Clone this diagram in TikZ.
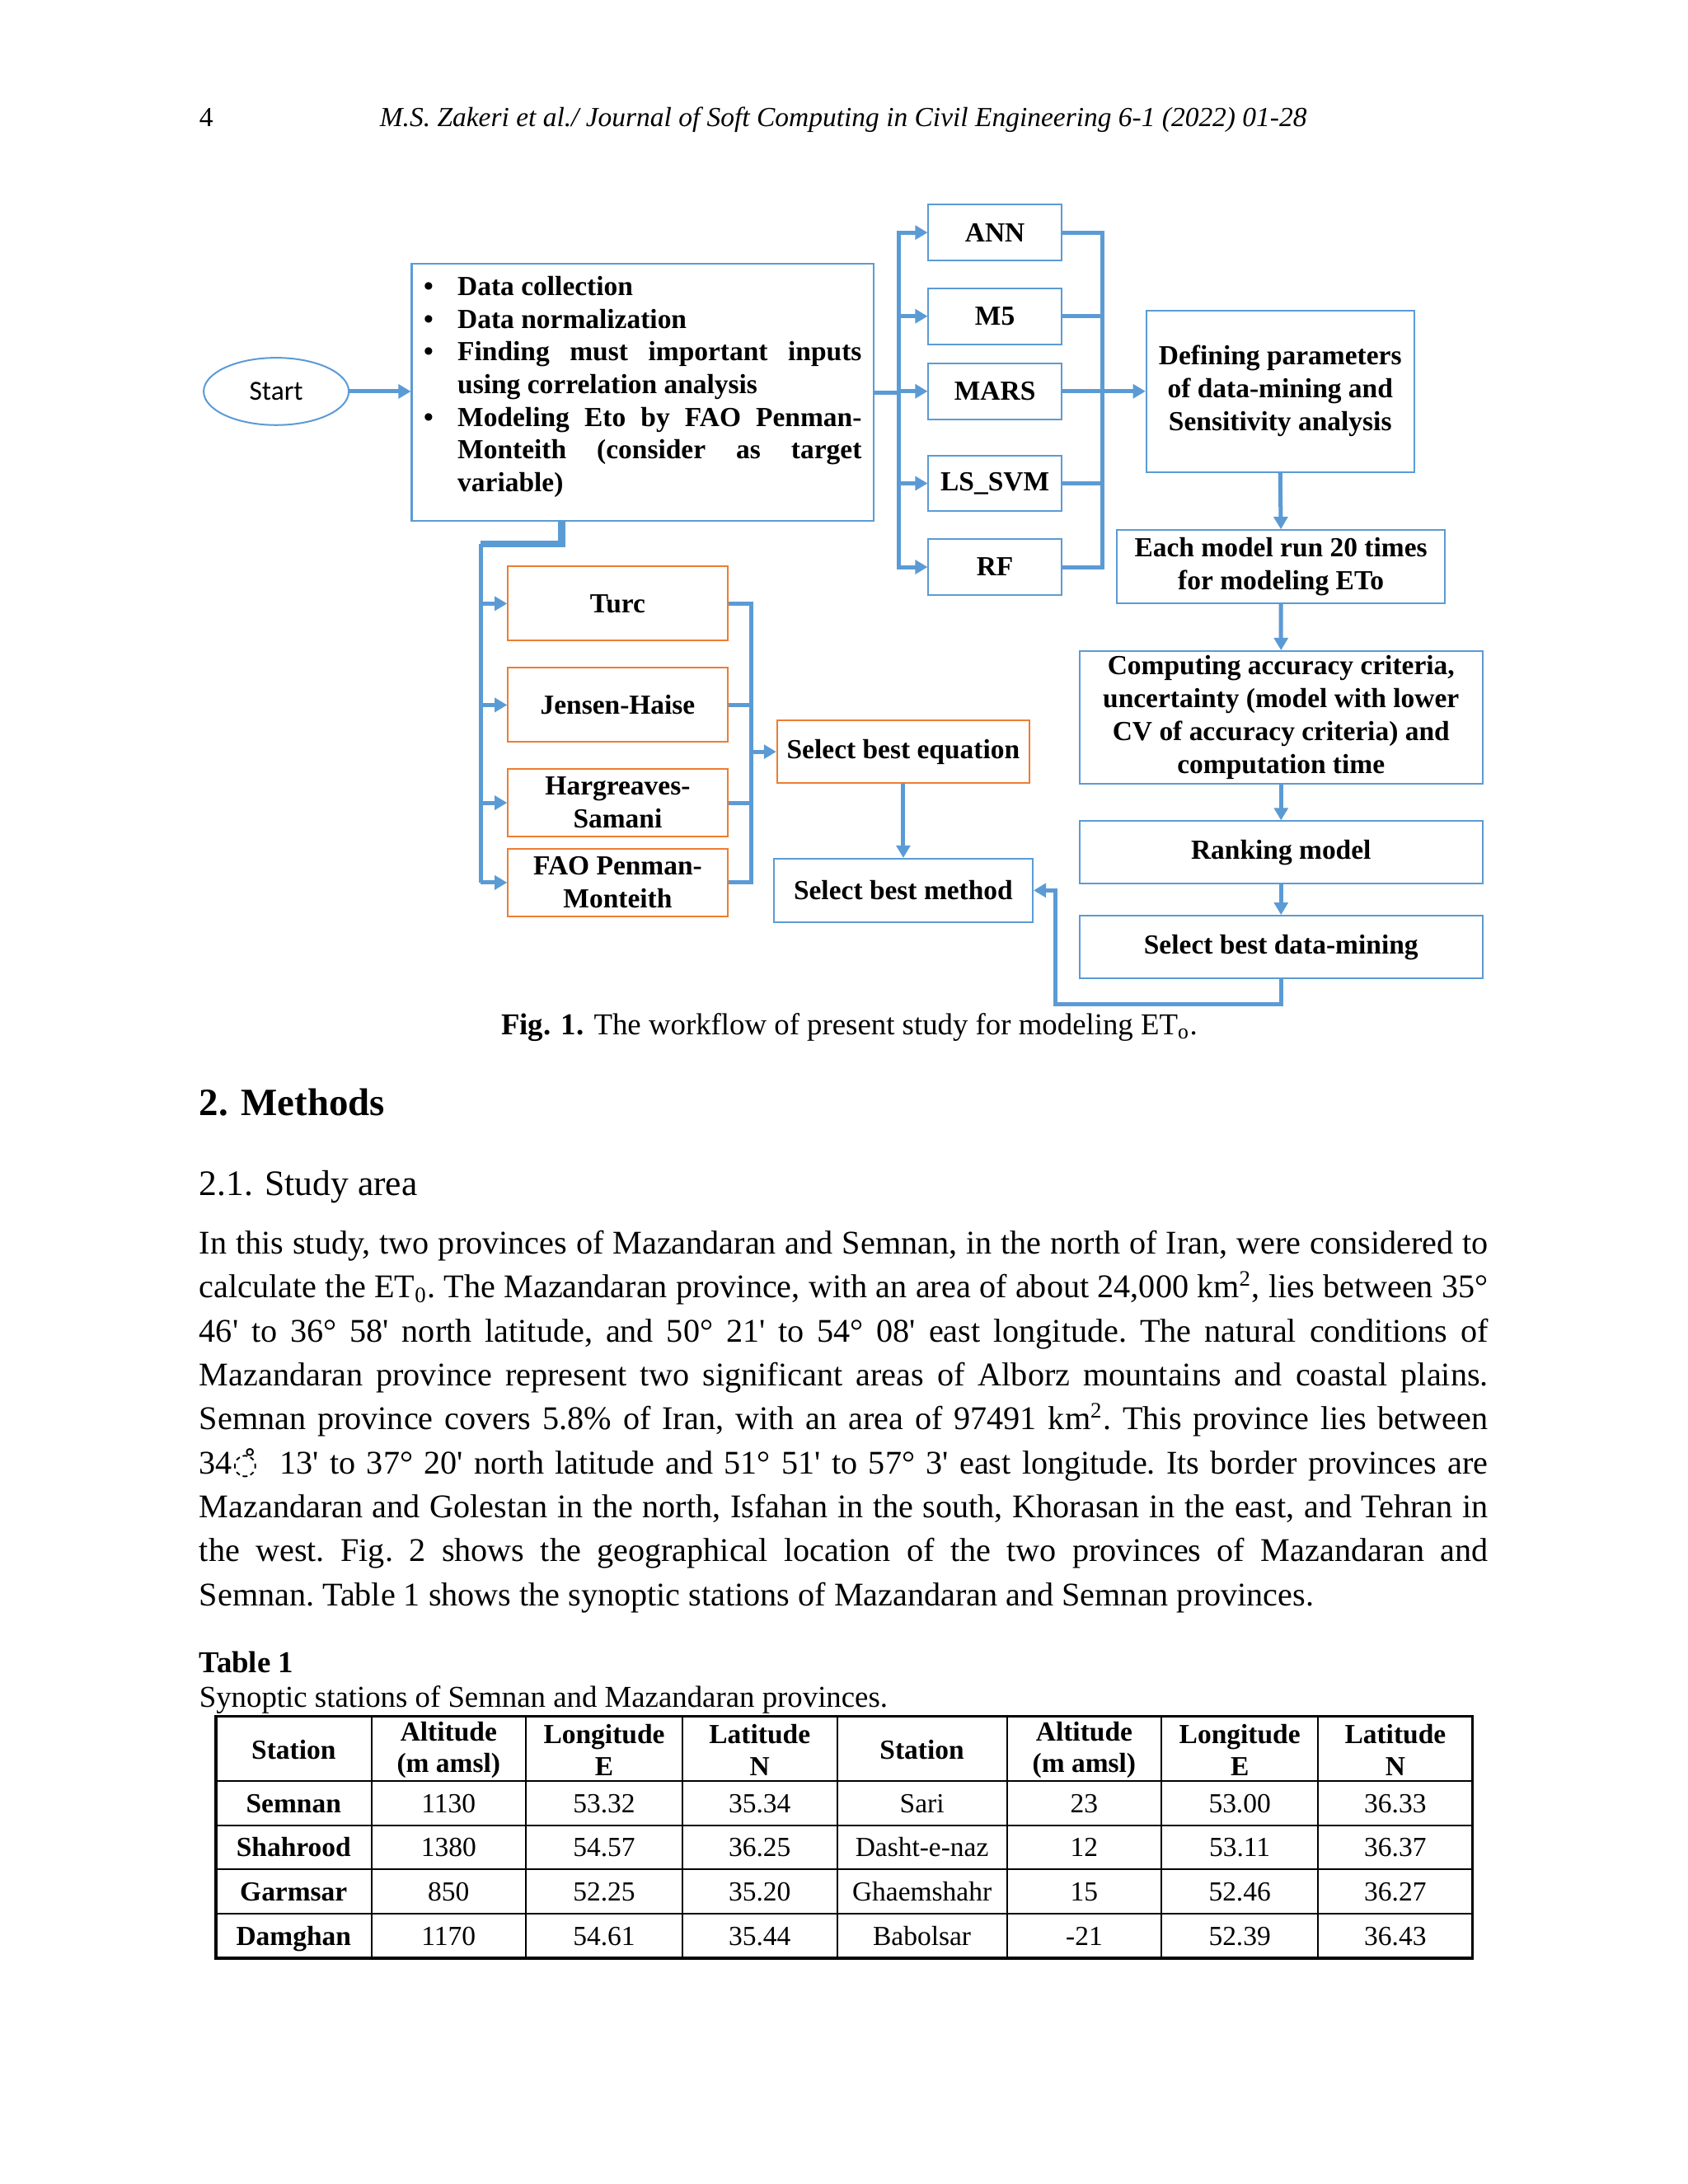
\documentclass[tikz,border=0pt]{standalone}
\usepackage{fontspec}
\setmainfont{Liberation Serif}
\newfontfamily\calibrifont{Carlito}
\newfontfamily\dejavufont{DejaVu Sans}
\usetikzlibrary{arrows.meta,positioning,shapes.geometric}
\definecolor{flowblue}{RGB}{91,155,213}
\definecolor{eqorange}{RGB}{237,125,49}
\newcommand{\prm}{\textquotesingle}
\newcommand{\bitem}{\par\hangindent=12.3pt\hangafter=1\noindent\makebox[12.3pt][l]{\textbullet}}

\begin{document}
\begin{tikzpicture}[
            x=0.505785pt, y=-0.505785pt,
            box/.style={
                rectangle, draw=flowblue, line width=0.6pt, align=center, inner sep=1pt,
                font=\fontsize{10}{11.95}\selectfont\bfseries
            },
            eqbox/.style={box, draw=eqorange},
            modelbox/.style={box, minimum width=48.2pt, minimum height=20.3pt},
            flow/.style={draw=flowblue, line width=1.5pt},
            arr/.style={flow, -{Triangle[width=5pt,length=4.5pt]}},
            txt/.style={inner sep=0pt, anchor=base west},
            cell/.style={inner sep=0pt, font=\fontsize{10}{11.5}\selectfont, text height=6.8pt, text depth=0pt},
            tabrule/.style={draw=black, line width=0.6pt}
        ]
        \path[use as bounding box, fill=white] (0,0) rectangle (1210,1565.7);

        % running head
        \node (pagenum) [txt, font=\fontsize{10}{12}\selectfont] at (142.5,90.6) {4};
        \node (runhead) [inner sep=0pt, anchor=base, font=\itshape\fontsize{10}{12}\selectfont] at (604.5,90.6)
            {M.S. Zakeri et al./ Journal of Soft Computing in Civil Engineering 6-1 (2022) 01-28};

        % workflow
        \node (start) [ellipse, draw=flowblue, line width=0.6pt, minimum width=52.6pt, minimum height=24.4pt,
            font=\calibrifont\fontsize{10}{12}\selectfont] at (198,280.6) {Start};
        \node (prep) [box, minimum width=167.5pt, minimum height=93.3pt, inner sep=0pt, align=left] at (460.7,281.4) {%
            \parbox{158.8pt}{\fontsize{10}{11.85}\selectfont\bfseries\tolerance=10000
            \noindent\hangindent=12.3pt\hangafter=1\makebox[12.3pt][l]{\textbullet}Data collection
            \bitem Data normalization
            \bitem Finding must important inputs\linebreak using correlation analysis
            \bitem Modeling Eto by FAO Penman-\linebreak Monteith (consider as target\linebreak variable)\par
            \vspace{4pt}}};

        \node (ann) [modelbox] at (713.2,166.7) {ANN};
        \node (m5) [modelbox] at (713.2,226.7) {M5};
        \node (mars) [modelbox] at (713.2,280.5) {MARS};
        \node (lssvm) [modelbox] at (713.2,346.5) {LS\_SVM};
        \node (rf) [modelbox] at (713.2,406.5) {RF};

        \node (define) [box, minimum width=97.1pt, minimum height=58.6pt] at (917.7,280.5)
            {Defining parameters\\of data-mining and\\Sensitivity analysis};
        \node (runs) [box, minimum width=118.9pt, minimum height=26.5pt] at (918.2,406.2)
            {Each model run 20 times\\for modeling ETo};
        \node (accuracy) [box, minimum width=146.1pt, minimum height=48pt] at (918.3,514.2)
            {Computing accuracy criteria,\\uncertainty (model with lower\\CV of accuracy criteria) and\\computation time};
        \node (ranking) [box, minimum width=146.1pt, minimum height=22.7pt] at (918.3,611.1) {Ranking model};
        \node (bestdm) [box, minimum width=146.1pt, minimum height=22.7pt] at (918.3,678.9) {Select best data-mining};

        \node (turc) [eqbox, minimum width=79.6pt, minimum height=26.9pt] at (442.8,432.7) {Turc};
        \node (jensen) [eqbox, minimum width=79.6pt, minimum height=26.9pt] at (442.8,505.4) {Jensen-Haise};
        \node (hargreaves) [eqbox, minimum width=79.6pt, minimum height=24.5pt] at (442.8,575.5) {Hargreaves-\\Samani};
        \node (fao) [eqbox, minimum width=79.6pt, minimum height=24.4pt] at (442.8,632.7) {FAO Penman-\\Monteith};
        \node (besteq) [eqbox, minimum width=91.5pt, minimum height=22.7pt] at (647.5,538.9) {Select best equation};
        \node (bestmethod) [box, minimum width=93.9pt, minimum height=23pt] at (647.5,638.3) {Select best method};

        % bus lines
        \coordinate (busL) at (644.5,0);
        \coordinate (busR) at (790.5,0);
        \coordinate (tap) at (402.7,373.6);
        \coordinate (eqL) at (344.6,389.9);
        \coordinate (eqR) at (538.3,0);
        \coordinate (loop) at (756.6,719.8);

        \draw[arr] (start.east) -- (start.east -| prep.west);
        \draw[flow] (prep.east) -- (prep.east -| busL);
        \draw[flow, line cap=rect] (busL |- ann) -- (busL |- rf);
        \draw[arr] (busL |- ann) -- (ann.west);
        \draw[arr] (busL |- m5) -- (m5.west);
        \draw[arr] (busL |- mars) -- (mars.west);
        \draw[arr] (busL |- lssvm) -- (lssvm.west);
        \draw[arr] (busL |- rf) -- (rf.west);
        \draw[flow] (ann.east) -- (ann.east -| busR);
        \draw[flow] (m5.east) -- (m5.east -| busR);
        \draw[flow] (mars.east) -- (mars.east -| busR);
        \draw[flow] (lssvm.east) -- (lssvm.east -| busR);
        \draw[flow] (rf.east) -- (rf.east -| busR);
        \draw[flow, line cap=rect] (busR |- ann) -- (busR |- rf);
        \draw[arr] (busR |- mars) -- (define.west);

        \draw[arr] (define.south) -- (runs.north);
        \draw[arr] (runs.south) -- (accuracy.north);
        \draw[arr] (accuracy.south) -- (ranking.north);
        \draw[arr] (ranking.south) -- (bestdm.north);
        \draw[arr] (bestdm.south) |- (loop) |- (bestmethod.east);

        \draw[flow, line width=2.6pt] (tap) |- (eqL);
        \draw[flow] (eqL) -- (eqL |- fao);
        \draw[arr] (eqL |- turc) -- (turc.west);
        \draw[arr] (eqL |- jensen) -- (jensen.west);
        \draw[arr] (eqL |- hargreaves) -- (hargreaves.west);
        \draw[arr] (eqL |- fao) -- (fao.west);
        \draw[flow] (turc.east) -- (turc.east -| eqR);
        \draw[flow] (jensen.east) -- (jensen.east -| eqR);
        \draw[flow] (hargreaves.east) -- (hargreaves.east -| eqR);
        \draw[flow] (fao.east) -- (fao.east -| eqR);
        \draw[flow, line cap=rect] (eqR |- turc) -- (eqR |- fao);
        \draw[arr] (eqR |- besteq) -- (besteq.west);
        \draw[arr] (besteq.south) -- (bestmethod.north);

        % caption and text
        \node (caption) [txt, font=\fontsize{11}{13}\selectfont] at (358.9,741.5)
            {\textbf{Fig. 1.} The workflow of present study for modeling ET\textsubscript{o}.};
        \node (methods) [txt, font=\bfseries\fontsize{14}{16}\selectfont] at (142.5,799.6) {2. Methods};
        \node (studyarea) [txt, font=\fontsize{13}{15}\selectfont] at (142.5,856.7) {2.1. Study area};
        \node (para) [txt] at (142.5,899) {\parbox[t]{467.3pt}{\fontsize{12}{15.93}\selectfont\frenchspacing\tolerance=10000\noindent
            In this study, two provinces of Mazandaran and Semnan, in the north of Iran, were considered to\linebreak
            calculate the ET\textsubscript{0}. The Mazandaran province, with an area of about 24,000 km\textsuperscript{2}, lies between 35°\linebreak
            46\prm{} to 36° 58\prm{} north latitude, and 50° 21\prm{} to 54° 08\prm{} east longitude. The natural conditions of\linebreak
            Mazandaran province represent two significant areas of Alborz mountains and coastal plains.\linebreak
            Semnan province covers 5.8\% of Iran, with an area of 97491 km\textsuperscript{2}. This province lies between\linebreak
            34{\dejavufont\fontsize{10.5}{10.5}\selectfont ◌̊}\ \ 13\prm{} to 37° 20\prm{} north latitude and 51° 51\prm{} to 57° 3\prm{} east longitude. Its border provinces are\linebreak
            Mazandaran and Golestan in the north, Isfahan in the south, Khorasan in the east, and Tehran in\linebreak
            the west. Fig.\ 2 shows the geographical location of the two provinces of Mazandaran and\linebreak
            Semnan. Table 1 shows the synoptic stations of Mazandaran and Semnan provinces.}};

        % table
        \node (tablelabel) [txt, font=\bfseries\fontsize{11}{13}\selectfont] at (142.5,1199.3) {Table 1};
        \node (tablecap) [txt, font=\fontsize{11}{13}\selectfont] at (142.5,1224)
            {Synoptic stations of Semnan and Mazandaran provinces.};
        \draw[tabrule, line width=1.1pt] (154.7,1230.3) rectangle (1055.6,1403.8);
        \foreach \x in {266.2,377,489.2,600,721.8,832.6,944.7}
            \draw[tabrule] (\x,1230.3) -- (\x,1403.8);
        \foreach \y in {1276.7,1308.6,1340.1,1372}
            \draw[tabrule] (154.7,\y) -- (1055.6,\y);
        \foreach \x/\head [count=\c] in {210.5/Station, 321.6/{Altitude\\(m amsl)}, 433.1/{Longitude\\E},
                544.6/{Latitude\\N}, 660.9/Station, 777.2/{Altitude\\(m amsl)}, 888.7/{Longitude\\E}, 1000.2/{Latitude\\N}}
            \node (h\c) [inner sep=0pt, align=center, font=\bfseries\fontsize{10}{11.5}\selectfont] at (\x,1254.5) {\head};
        \foreach \y/\sa/\sb/\sc/\sd/\se/\sf/\sg/\sh [count=\r] in {
                1292.7/Semnan/1130/53.32/35.34/Sari/23/53.00/36.33,
                1324.4/Shahrood/1380/54.57/36.25/Dasht-e-naz/12/53.11/36.37,
                1356/Garmsar/850/52.25/35.20/Ghaemshahr/15/52.46/36.27,
                1387.9/Damghan/1170/54.61/35.44/Babolsar/-21/52.39/36.43}{
            \node (r\r c1) [cell, font=\bfseries\fontsize{10}{11.5}\selectfont] at (210.5,\y) {\sa};
            \node (r\r c2) [cell] at (321.6,\y) {\sb};
            \node (r\r c3) [cell] at (433.1,\y) {\sc};
            \node (r\r c4) [cell] at (544.6,\y) {\sd};
            \node (r\r c5) [cell] at (660.9,\y) {\se};
            \node (r\r c6) [cell] at (777.2,\y) {\sf};
            \node (r\r c7) [cell] at (888.7,\y) {\sg};
            \node (r\r c8) [cell] at (1000.2,\y) {\sh};
        }
    \end{tikzpicture}
\end{document}
